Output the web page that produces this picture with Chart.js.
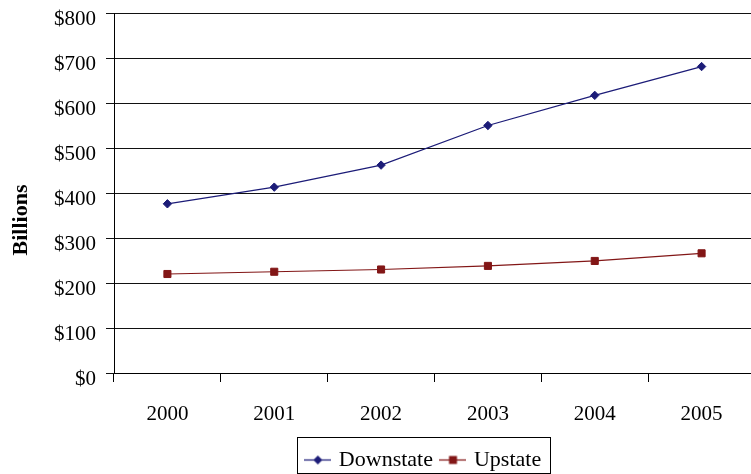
<!DOCTYPE html>
<html>
<head>
<meta charset="utf-8">
<title>Downstate and Upstate, 2000–2005</title>
<script src="https://cdn.jsdelivr.net/npm/chart.js@4/dist/chart.umd.min.js"></script>
<style>
  html, body { margin: 0; padding: 0; background: #fff; overflow: hidden; }
  #wrap { width: 751px; height: 474px; overflow: hidden; position: relative; }
  canvas { display: block; }
</style>
</head>
<body>
<div id="wrap"><canvas id="chart" width="756" height="481"></canvas></div>
<script>
// Values in billions of dollars
const years = ['2000', '2001', '2002', '2003', '2004', '2005'];
const downstate = [376, 413, 462, 550, 617, 681];
const upstate = [220, 225, 230, 238, 249, 266];
const yTickValues = [0, 100, 200, 300, 400, 500, 600, 700, 800];
const seriesNames = ['Downstate', 'Upstate'];
const yAxisTitle = 'Billions';

const SERIF = "'Liberation Serif', 'Times New Roman', serif";
const NAVY = '#1c1c78';
const MAROON = '#821616';

// Small line-with-marker swatch for the legend
function swatch(color, shape) {
  const c = document.createElement('canvas');
  c.width = 27; c.height = 11;
  const g = c.getContext('2d');
  g.strokeStyle = color;
  g.lineWidth = 1.25;
  g.beginPath(); g.moveTo(0, 5.5); g.lineTo(27, 5.5); g.stroke();
  g.fillStyle = color;
  g.beginPath();
  if (shape === 'rectRot') {
    g.moveTo(9, 5.5); g.lineTo(13.5, 1); g.lineTo(18, 5.5); g.lineTo(13.5, 10);
  } else {
    g.rect(9.5, 1.5, 8, 8);
  }
  g.closePath(); g.fill();
  return c;
}
const swatches = [swatch(NAVY, 'rectRot'), swatch(MAROON, 'rect')];

// Height of the category axis band (ticks + labels + gap above the legend)
const xAxisHeight = 66;
// Horizontal nudge of the legend row
const legendShift = -10;

const axisTitlePlugin = {
  id: 'axisTitle',
  afterDraw(chart) {
    const ctx = chart.ctx;
    const xs = chart.scales.x;
    const labelBottom = xs.top + 9 + 20 + 25;
    const yMid = (chart.chartArea.top + labelBottom) / 2;
    ctx.save();
    ctx.translate(21, yMid);
    ctx.rotate(-Math.PI / 2);
    ctx.font = 'bold 22px ' + SERIF;
    ctx.fillStyle = '#000';
    ctx.textAlign = 'center';
    ctx.textBaseline = 'middle';
    ctx.fillText(yAxisTitle, 0, 0);
    ctx.restore();
  }
};

const legendFramePlugin = {
  id: 'legendFrame',
  afterLayout(chart) {
    const lg = chart.legend;
    if (lg) { lg.left += legendShift; lg.right += legendShift; }
  },
  afterDraw(chart) {
    const boxes = chart.legend && chart.legend.legendHitBoxes;
    if (!boxes || !boxes.length) return;
    const first = boxes[0], last = boxes[boxes.length - 1];
    const left = Math.round(first.left - 11) + 0.5;
    const right = Math.round(last.left + last.width + 9) + 0.5;
    const top = Math.round(first.top - 12) + 0.5;
    const bottom = Math.round(first.top + first.height + 2) + 0.5;
    const ctx = chart.ctx;
    ctx.save();
    ctx.strokeStyle = '#000';
    ctx.lineWidth = 1;
    ctx.strokeRect(left, top, right - left, bottom - top);
    ctx.restore();
  }
};

new Chart(document.getElementById('chart'), {
  type: 'line',
  data: {
    labels: years,
    datasets: [
      {
        label: seriesNames[0],
        data: downstate,
        borderColor: NAVY,
        backgroundColor: NAVY,
        borderWidth: 1.25,
        pointStyle: 'rectRot',
        pointRadius: 4.2,
        pointBorderWidth: 1,
        pointHoverRadius: 4.2,
        tension: 0,
        fill: false
      },
      {
        label: seriesNames[1],
        data: upstate,
        borderColor: MAROON,
        backgroundColor: MAROON,
        borderWidth: 1.25,
        pointStyle: 'rect',
        pointRadius: 5,
        pointBorderWidth: 1,
        pointHoverRadius: 5,
        tension: 0,
        fill: false
      }
    ]
  },
  options: {
    responsive: false,
    animation: false,
    events: [],
    layout: { autoPadding: false, padding: { top: 13, left: 44, right: 1, bottom: 0 } },
    scales: {
      x: {
        type: 'category',
        offset: true,
        grid: {
          offset: true,
          drawOnChartArea: false,
          drawTicks: true,
          tickLength: 9,
          color: '#000',
          lineWidth: 1
        },
        border: { display: true, color: '#000', width: 1 },
        ticks: {
          color: '#000',
          font: { family: SERIF, size: 21 },
          padding: 20,
          maxRotation: 0,
          autoSkip: false
        },
        afterFit(scale) { scale.height = xAxisHeight; }
      },
      y: {
        min: 0,
        max: 800,
        afterBuildTicks(scale) {
          scale.ticks = yTickValues.map(v => ({ value: v }));
        },
        grid: {
          color: '#111',
          lineWidth: 1,
          drawTicks: true,
          tickLength: 8
        },
        border: { display: true, color: '#000', width: 1 },
        ticks: {
          color: '#000',
          font: { family: SERIF, size: 21, lineHeight: 0.2 },
          padding: 10,
          labelOffset: 6,
          callback: v => '$' + v
        }
      }
    },
    plugins: {
      title: { display: false },
      tooltip: { enabled: false },
      legend: {
        display: true,
        position: 'bottom',
        fullSize: false,
        labels: {
          color: '#000',
          font: { family: SERIF, size: 22 },
          usePointStyle: true,
          pointStyleWidth: 20,
          padding: 10,
          generateLabels(chart) {
            const items = Chart.defaults.plugins.legend.labels.generateLabels(chart);
            items.forEach((it, i) => { it.pointStyle = swatches[i]; });
            return items;
          }
        }
      }
    }
  },
  plugins: [axisTitlePlugin, legendFramePlugin]
});
</script>
</body>
</html>
